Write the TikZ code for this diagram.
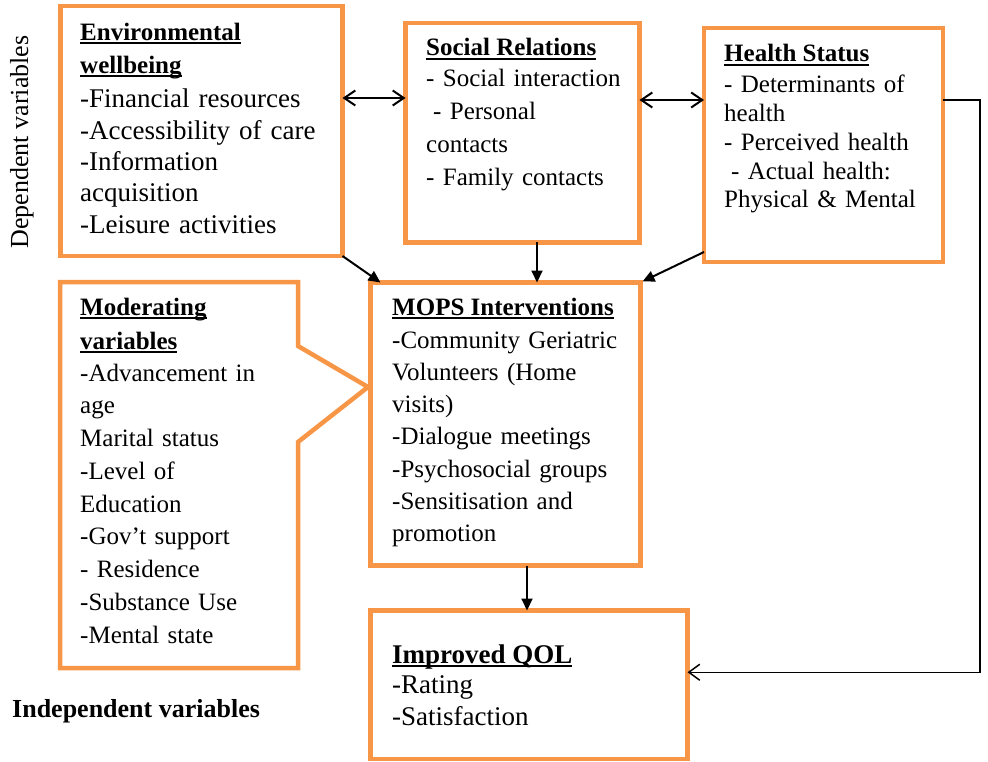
\documentclass[tikz,border=0pt]{standalone}
\usepackage{fontspec}
\setmainfont{Liberation Serif}
\usetikzlibrary{arrows.meta,calc}
\definecolor{boxorange}{HTML}{F79646}
\newsavebox{\ulsave}
\newcommand{\ulbox}[1]{\sbox{\ulsave}{#1}\rlap{\rule[-3.6pt]{\wd\ulsave}{1.7pt}}\usebox{\ulsave}}
\begin{document}
\begin{tikzpicture}[x=1pt,y=-1pt,
  box/.style={draw=boxorange, line width=4.5pt, rectangle, outer sep=0pt, inner sep=0pt, anchor=north west, fill=white},
  ttl/.style={anchor=base west, inner sep=0pt, font=\fontsize{25}{32}\selectfont\bfseries},
  body/.style={anchor=base west, inner sep=0pt, align=left, text width=320pt},
  con/.style={line width=2pt, -{Triangle[length=12pt,width=11pt]}},
  dbl/.style={line width=2pt, {Straight Barb[length=11pt,width=15pt]}-{Straight Barb[length=11pt,width=15pt]}},
  fbk/.style={line width=1.5pt, -{Straight Barb[length=11pt,width=16pt]}}
]
\useasboundingbox (0,0) rectangle (988,762);

% callout (moderating variables)
\draw[draw=boxorange, line width=4.5pt, line join=miter, fill=white]
  (60,282) -- (298,282) -- (298,346) -- (368,387) -- (298,442) -- (298,668) -- (60,668) -- cycle;

% boxes
\node[box, minimum width=282pt, minimum height=250pt] (env) at (60.5,6) {};
\node[box, minimum width=234pt, minimum height=219.5pt] (soc) at (405.5,23) {};
\node[box, minimum width=239pt, minimum height=234pt] (hea) at (704,28) {};
\node[box, minimum width=270pt, minimum height=283pt] (mops) at (370.5,282.5) {};
\node[box, minimum width=317pt, minimum height=148.5pt] (qol) at (370.5,610.5) {};

% texts
\node[ttl] (envt1) at (80,40.5) {\ulbox{Environmental}};
\node[ttl] (envt2) at (80,73.5) {\ulbox{wellbeing}};
\node[body, font=\fontsize{27}{31.3}\selectfont] (envb) at (80,108) {-Financial resources\\-Accessibility of care\\-Information\\acquisition\\-Leisure activities};

\node[ttl] (soct) at (426,56) {\ulbox{Social Relations}};
\node[body, font=\fontsize{25}{32.7}\selectfont] (socb) at (426,87) {- Social interaction\\\hspace*{7pt}- Personal\\contacts\\- Family contacts};

\node[ttl] (heat) at (724,62) {\ulbox{Health Status}};
\node[body, font=\fontsize{25}{28.7}\selectfont] (heab) at (724,93) {- Determinants of\\health\\- Perceived health\\\hspace*{7pt}- Actual health:\\Physical \& Mental};

\node[ttl] (modt1) at (80,315) {\ulbox{Moderating}};
\node[ttl] (modt2) at (80,349) {\ulbox{variables}};
\node[body, font=\fontsize{25}{32.75}\selectfont] (modb) at (80,381) {-Advancement in\\age\\Marital status\\-Level of\\Education\\-Gov’t support\\- Residence\\-Substance Use\\-Mental state};

\node[ttl] (mopst) at (392,315) {\ulbox{MOPS Interventions}};
\node[body, font=\fontsize{25}{32.3}\selectfont] (mopsb) at (392,348) {-Community Geriatric\\Volunteers (Home\\visits)\\-Dialogue meetings\\-Psychosocial groups\\-Sensitisation and\\promotion};

\node[ttl, font=\fontsize{27}{32}\selectfont\bfseries] (qolt) at (392,663) {\ulbox{Improved QOL}};
\node[body, font=\fontsize{27}{32}\selectfont] (qolb) at (392,693) {-Rating\\-Satisfaction};

\node[anchor=base, rotate=90, inner sep=0pt, font=\fontsize{26}{30}\selectfont] (dep) at (28,142) {Dependent variables};
\node[anchor=base west, inner sep=0pt, font=\fontsize{26}{30}\selectfont\bfseries] (indep) at (12,717) {Independent variables};

% connectors
\coordinate (d1) at ($(env.north east)+(0,92)$);
\draw[dbl] (d1) -- (d1 -| soc.west);
\coordinate (d2) at ($(soc.north east)+(0,77)$);
\draw[dbl] (d2) -- (d2 -| hea.west);

\draw[con] (env.south east) -- ($(mops.north west)+(10,0)$);
\coordinate (s1) at ($(soc.south)+(14.5,0)$);
\draw[con] (s1) -- (s1 |- mops.north);
\draw[con] ($(hea.south west)+(0,-10)$) -- ($(mops.north east)+(2,-1)$);
\coordinate (m1) at ($(mops.south)+(21.5,0)$);
\draw[con] (m1) -- (m1 |- qol.north);

\coordinate (f1) at ($(hea.north east)+(0,72)$);
\coordinate (f2) at ($(qol.east)+(0,-12.5)$);
\draw[fbk] (f1) -- ++(37,0) |- (f2);
\end{tikzpicture}
\end{document}
